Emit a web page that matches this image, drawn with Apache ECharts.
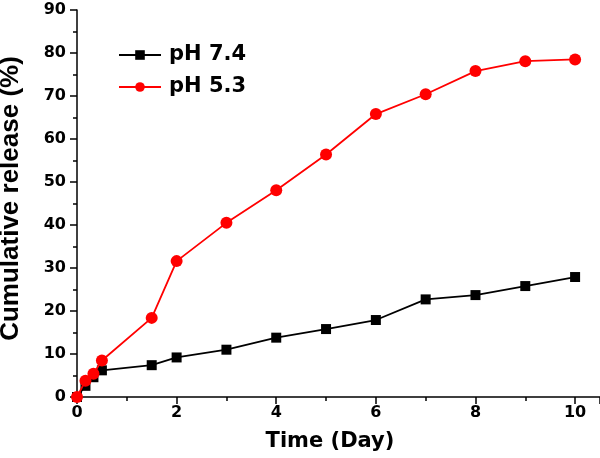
<!DOCTYPE html>
<html>
<head>
<meta charset="utf-8">
<script src="https://cdn.jsdelivr.net/npm/echarts@6/dist/echarts.min.js"></script>
<style>html,body{margin:0;padding:0;background:#fff}#c{width:600px;height:458px}</style>
</head>
<body>
<div id="c"></div>
<script>
var timeDays = [0, 0.17, 0.33, 0.5, 1.5, 2, 3, 4, 5, 6, 7, 8, 9, 10];
var ph74 = [0, 2.6, 4.6, 6.2, 7.4, 9.2, 11.0, 13.8, 15.8, 17.9, 22.7, 23.7, 25.8, 27.9];
var ph53 = [0, 3.8, 5.4, 8.5, 18.4, 31.6, 40.5, 48.1, 56.4, 65.8, 70.4, 75.8, 78.1, 78.5];
var seriesNames = ['pH 7.4', 'pH 5.3'];

function pairs(xs, ys) { return xs.map(function (x, i) { return [x, ys[i]]; }); }

var font = 'DejaVu Sans';
var chart = echarts.init(document.getElementById('c'), null, {renderer: 'canvas'});
chart.setOption({
  animation: false,
  backgroundColor: '#fff',
  grid: {left: 77, right: 0, top: 10, bottom: 61, containLabel: false, outerBoundsMode: 'none'},
  legend: {
    orient: 'vertical', left: 113, top: 39, itemWidth: 42, itemHeight: 12, itemGap: 10,
    data: seriesNames,
    textStyle: {fontFamily: font, fontWeight: 'bold', fontSize: 21, color: '#000', lineHeight: 22, padding: [0, 0, 0, 3]}
  },
  xAxis: {
    type: 'value', min: 0, max: 10.5, interval: 2,
    name: 'Time (Day)', nameLocation: 'middle', nameGap: 34,
    nameTextStyle: {fontFamily: font, fontWeight: 'bold', fontSize: 21, color: '#000', padding: [0, 17, 0, 0]},
    axisLine: {show: true, onZero: false, lineStyle: {color: '#000', width: 1.5}},
    axisTick: {show: true, inside: false, length: 7, lineStyle: {color: '#000', width: 1.5}},
    minorTick: {show: true, splitNumber: 2, length: 4, lineStyle: {color: '#000', width: 1.5}},
    axisLabel: {fontFamily: font, fontWeight: 'bold', fontSize: 16, color: '#000', margin: 8,
      formatter: function (v) { return v > 10 ? '' : v; }},
    splitLine: {show: false}
  },
  yAxis: {
    type: 'value', min: 0, max: 90, interval: 10,
    name: 'Cumulative release (%)', nameLocation: 'middle', nameGap: 53, nameRotate: 90,
    nameTextStyle: {fontFamily: 'Liberation Sans', fontWeight: 'bold', fontSize: 26, color: '#000', padding: [0, 0, 0, 10]},
    axisLine: {show: true, onZero: false, lineStyle: {color: '#000', width: 1.5}},
    axisTick: {show: true, inside: false, length: 7, lineStyle: {color: '#000', width: 1.5}},
    minorTick: {show: true, splitNumber: 2, length: 4, lineStyle: {color: '#000', width: 1.5}},
    axisLabel: {fontFamily: font, fontWeight: 'bold', fontSize: 16, color: '#000', margin: 11},
    splitLine: {show: false}
  },
  series: [
    {
      name: seriesNames[0], type: 'line', data: pairs(timeDays, ph74),
      symbol: 'rect', symbolSize: 10, z: 2,
      lineStyle: {color: '#000', width: 1.8}, itemStyle: {color: '#000'}
    },
    {
      name: seriesNames[1], type: 'line', data: pairs(timeDays, ph53),
      symbol: 'circle', symbolSize: 12, z: 3,
      lineStyle: {color: '#ff0000', width: 1.8}, itemStyle: {color: '#ff0000'}
    }
  ]
});
</script>
</body>
</html>
